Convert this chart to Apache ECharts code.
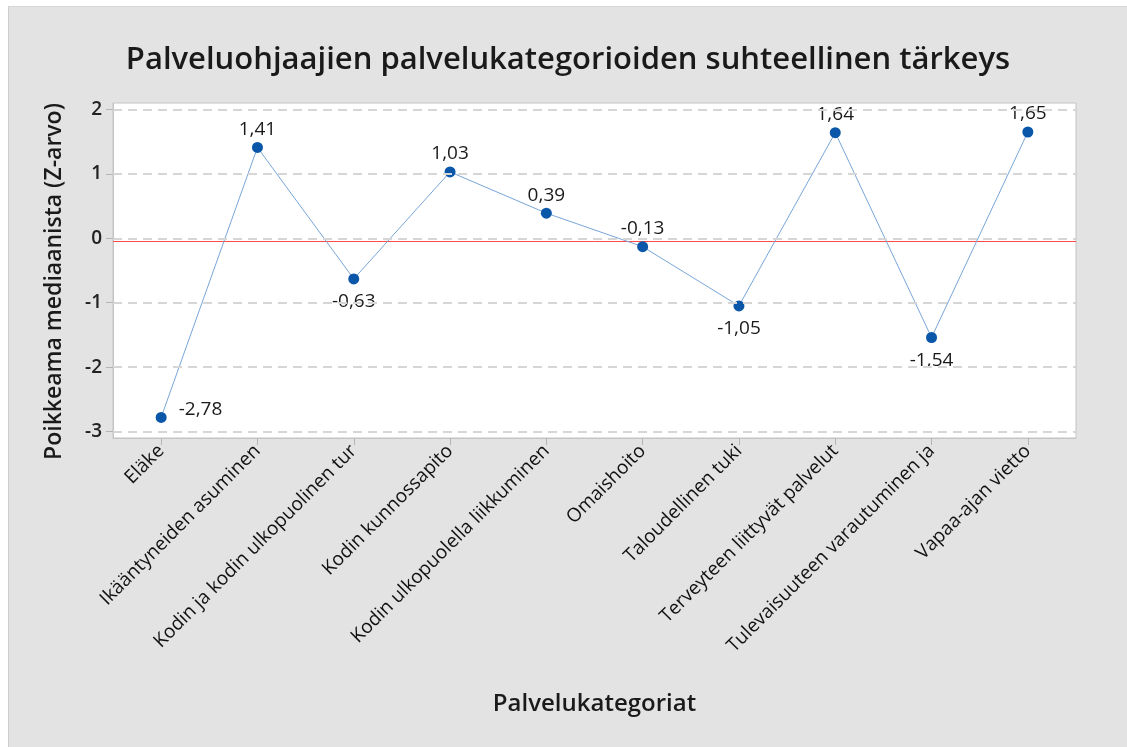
<!DOCTYPE html>
<html>
<head>
<meta charset="utf-8">
<script src="https://cdn.jsdelivr.net/npm/echarts@6/dist/echarts.min.js"></script>
<style>
  html, body { margin: 0; padding: 0; background: #ffffff; width: 1127px; height: 747px; overflow: hidden; }
  #chart { position: absolute; left: 8px; top: 6px; width: 1119px; height: 741px;
           background: #e3e3e3; border-left: 1px solid #cdcdcd; border-top: 1px solid #d6d6d6; box-sizing: border-box; }
</style>
</head>
<body>
<div id="chart"></div>
<script>
// ---- data ----
const categories = [
  "Eläke",
  "Ikääntyneiden asuminen",
  "Kodin ja kodin ulkopuolinen tur",
  "Kodin kunnossapito",
  "Kodin ulkopuolella liikkuminen",
  "Omaishoito",
  "Taloudellinen tuki",
  "Terveyteen liittyvät palvelut",
  "Tulevaisuuteen varautuminen ja",
  "Vapaa-ajan vietto"
];
const zValues = [-2.78, 1.41, -0.63, 1.03, 0.39, -0.13, -1.05, 1.64, -1.54, 1.65];
const yTicks = [-3, -2, -1, 0, 1, 2];
const referenceLine = -0.05;
// label placement per point (style, not data)
const labelPlacement = ["right", "top", "bottom", "top", "top", "top", "bottom", "top", "bottom", "top"];

const FONT = "'Open Sans', 'Noto Sans', sans-serif";
const fmt = v => v.toFixed(2).replace('.', ',');

const chart = echarts.init(document.getElementById('chart'), null, { renderer: 'canvas' });

const pointData = zValues.map((v, i) => {
  const pos = labelPlacement[i];
  const lab = { position: pos };
  if (pos === 'right') { lab.distance = 12; lab.offset = [0, -8]; }
  if (pos === 'bottom') { lab.distance = 8; }
  if (pos === 'top') { lab.distance = 3; }
  return { value: v, label: lab };
});

chart.setOption({
  animation: false,
  title: {
    text: 'Palveluohjaajien palvelukategorioiden suhteellinen tärkeys',
    left: 'center',
    top: 33,
    textStyle: { fontFamily: FONT, fontSize: 31, fontWeight: 600, color: '#1a1a1a' }
  },
  grid: {
    left: 104, top: 96, width: 963, height: 335,
    show: true, backgroundColor: '#ffffff', borderColor: '#c4c4c4', borderWidth: 1
  },
  xAxis: [
    {
      type: 'category',
      data: categories,
      boundaryGap: true,
      name: 'Palvelukategoriat',
      nameLocation: 'middle',
      nameGap: 254,
      nameTextStyle: { fontFamily: FONT, fontSize: 24, fontWeight: 600, color: '#1a1a1a' },
      axisLine: { show: true, onZero: false, lineStyle: { color: '#c4c4c4', width: 1 } },
      axisTick: { show: true, alignWithLabel: true, length: 7, lineStyle: { color: '#b5b5b5' } },
      axisLabel: { rotate: 45, interval: 0, margin: 10, fontFamily: FONT, fontSize: 19, color: '#111' },
      splitLine: { show: false }
    },
    {
      type: 'value',
      min: 0,
      max: 1,
      show: false,
      position: 'top'
    }
  ],
  yAxis: {
    type: 'value',
    min: -3.1,
    max: 2.1,
    name: 'Poikkeama mediaanista (Z-arvo)',
    nameLocation: 'middle',
    nameGap: 47,
    nameRotate: 90,
    nameTextStyle: { fontFamily: FONT, fontSize: 23, fontWeight: 600, color: '#1a1a1a', padding: [0, 0, 0, -22] },
    axisLine: { show: true, onZero: false, lineStyle: { color: '#c4c4c4', width: 1 } },
    axisTick: { show: true, length: 7, lineStyle: { color: '#b5b5b5' }, customValues: yTicks },
    axisLabel: { margin: 11, fontFamily: FONT, fontSize: 19, fontWeight: 600, color: '#222', customValues: yTicks },
    splitLine: { show: false }
  },
  series: [
    {
      type: 'line',
      data: [],
      z: 1,
      silent: true,
      markLine: {
        silent: true,
        symbol: ['none', 'none'],
        label: { show: false },
        animation: false,
        lineStyle: { color: '#d6d6d6', width: 2, type: [9, 6] },
        data: yTicks.map(t => ({ yAxis: t }))
      }
    },
    {
      type: 'line',
      xAxisIndex: 1,
      z: 2,
      silent: true,
      symbol: 'none',
      data: [[0, referenceLine], [1, referenceLine]],
      lineStyle: { color: '#ff4a4a', width: 1, type: 'solid' },
      itemStyle: { color: '#ff4a4a' }
    },
    {
      type: 'line',
      z: 3,
      data: pointData,
      symbol: 'circle',
      symbolSize: 11,
      itemStyle: { color: '#0a56a8' },
      lineStyle: { color: '#79a6d8', width: 1 },
      label: { show: true, formatter: p => fmt(p.value), fontFamily: FONT, fontSize: 19, color: '#1a1a1a' }
    }
  ]
});
</script>
</body>
</html>
